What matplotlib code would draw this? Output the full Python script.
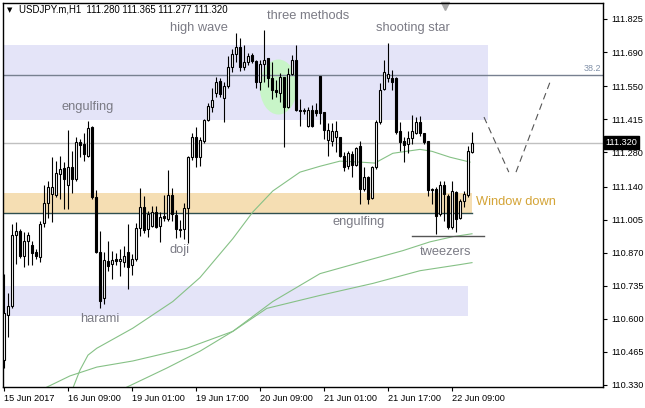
import numpy as np
import matplotlib
matplotlib.use("Agg")
import matplotlib.pyplot as plt
from matplotlib.patches import Ellipse, Rectangle
from matplotlib.transforms import blended_transform_factory

plt.rcParams['font.family'] = ['Liberation Sans', 'DejaVu Sans']

# --- H1 candles, USDJPY.m ---
opens = [
    110.430, 110.613, 110.650, 110.943, 110.959, 110.857, 110.918, 110.902, 110.874, 110.853,
    110.992, 111.073, 111.109, 111.105, 111.191, 111.215, 111.146, 111.219, 111.171, 111.321,
    111.313, 111.264, 111.382, 111.097, 110.874, 110.685, 110.837, 110.825, 110.845, 110.837,
    110.833, 110.874, 110.821, 110.845, 110.971, 111.057, 110.967, 110.979, 111.036, 110.979,
    111.020, 111.008, 111.105, 111.024, 110.963, 110.967, 111.053, 111.260, 111.341, 111.260,
    111.325, 111.414, 111.467, 111.524, 111.573, 111.504, 111.553, 111.630, 111.683, 111.711,
    111.630, 111.650, 111.679, 111.654, 111.569, 111.642, 111.666, 111.585, 111.536, 111.524,
    111.589, 111.467, 111.601, 111.658, 111.455, 111.455, 111.386, 111.455, 111.451, 111.593,
    111.443, 111.329, 111.325, 111.341, 111.341, 111.264, 111.223, 111.272, 111.227, 111.305,
    111.130, 111.179, 111.093, 111.219, 111.402, 111.540, 111.585, 111.585, 111.585, 111.366,
    111.325, 111.313, 111.337, 111.357, 111.402, 111.357, 111.325, 111.126, 111.130, 111.028,
    111.146, 111.101, 110.975, 111.118, 111.012, 111.081, 111.105, 111.280]
highs = [
    110.784, 110.703, 110.988, 110.996, 110.967, 110.955, 110.955, 110.918, 110.886, 111.000,
    111.146, 111.162, 111.260, 111.244, 111.264, 111.240, 111.370, 111.284, 111.341, 111.333,
    111.357, 111.410, 111.386, 111.126, 110.959, 110.874, 110.918, 110.878, 110.870, 110.886,
    110.898, 110.988, 110.866, 110.992, 111.134, 111.101, 111.040, 111.061, 111.061, 111.036,
    111.105, 111.207, 111.134, 111.044, 111.004, 111.073, 111.264, 111.357, 111.382, 111.341,
    111.418, 111.483, 111.544, 111.589, 111.585, 111.569, 111.675, 111.703, 111.768, 111.748,
    111.719, 111.687, 111.687, 111.658, 111.658, 111.780, 111.666, 111.650, 111.577, 111.605,
    111.589, 111.626, 111.679, 111.719, 111.496, 111.463, 111.467, 111.475, 111.483, 111.593,
    111.443, 111.398, 111.398, 111.406, 111.341, 111.280, 111.284, 111.284, 111.301, 111.325,
    111.219, 111.183, 111.223, 111.414, 111.565, 111.658, 111.727, 111.618, 111.589, 111.402,
    111.341, 111.366, 111.431, 111.423, 111.427, 111.357, 111.325, 111.134, 111.138, 111.162,
    111.162, 111.109, 111.162, 111.122, 111.089, 111.122, 111.305, 111.365]
lows = [
    110.398, 110.524, 110.642, 110.825, 110.849, 110.813, 110.821, 110.821, 110.845, 110.833,
    110.975, 111.012, 110.996, 111.097, 111.089, 111.049, 111.049, 111.114, 111.162, 111.260,
    111.244, 111.260, 111.089, 110.870, 110.642, 110.658, 110.796, 110.764, 110.821, 110.773,
    110.813, 110.723, 110.777, 110.837, 110.939, 110.951, 110.935, 110.975, 110.971, 110.914,
    111.000, 111.000, 111.000, 110.931, 110.935, 110.927, 110.910, 111.248, 111.219, 111.223,
    111.317, 111.406, 111.443, 111.508, 111.508, 111.402, 111.544, 111.610, 111.650, 111.614,
    111.618, 111.638, 111.646, 111.544, 111.536, 111.569, 111.549, 111.496, 111.508, 111.487,
    111.301, 111.463, 111.597, 111.447, 111.386, 111.435, 111.382, 111.382, 111.427, 111.394,
    111.333, 111.264, 111.305, 111.280, 111.260, 111.203, 111.211, 111.179, 111.223, 111.069,
    111.122, 111.069, 111.089, 111.211, 111.394, 111.536, 111.569, 111.536, 111.353, 111.284,
    111.240, 111.276, 111.313, 111.353, 111.345, 111.313, 111.101, 111.069, 110.947, 111.020,
    111.000, 110.967, 110.967, 110.955, 111.008, 111.057, 111.097, 111.277]
closes = [
    110.622, 110.650, 110.943, 110.959, 110.857, 110.918, 110.943, 110.870, 110.857, 110.988,
    111.073, 111.138, 111.138, 111.195, 111.211, 111.171, 111.219, 111.171, 111.321, 111.309,
    111.272, 111.378, 111.097, 110.874, 110.674, 110.841, 110.817, 110.841, 110.837, 110.845,
    110.857, 110.813, 110.845, 110.971, 111.057, 110.963, 111.028, 111.036, 110.975, 111.016,
    111.012, 111.105, 111.028, 110.967, 110.967, 111.053, 111.260, 111.341, 111.260, 111.329,
    111.414, 111.471, 111.492, 111.569, 111.520, 111.553, 111.630, 111.683, 111.711, 111.630,
    111.650, 111.675, 111.654, 111.569, 111.642, 111.658, 111.585, 111.536, 111.528, 111.589,
    111.467, 111.601, 111.658, 111.451, 111.447, 111.447, 111.451, 111.386, 111.439, 111.439,
    111.370, 111.370, 111.366, 111.366, 111.264, 111.219, 111.276, 111.227, 111.296, 111.130,
    111.179, 111.089, 111.219, 111.402, 111.536, 111.610, 111.601, 111.569, 111.362, 111.321,
    111.309, 111.337, 111.366, 111.402, 111.357, 111.321, 111.126, 111.130, 111.020, 111.146,
    111.109, 110.975, 111.122, 111.008, 111.081, 111.109, 111.284, 111.320]

# moving averages (bar index, price)
ma_fast_x = [17.2, 19, 21, 23.2, 32.2, 42.2, 49, 57.2, 62.2, 67.2, 74, 79, 84, 89, 92.7, 97.2, 104, 107, 111.5, 116.5]
ma_fast_y = [110.315, 110.390, 110.451, 110.479, 110.561, 110.670, 110.768, 110.927, 111.036, 111.122,
             111.199, 111.223, 111.244, 111.240, 111.236, 111.276, 111.292, 111.284, 111.260, 111.240]
ma_mid_x = [30.7, 40.7, 49, 57.2, 67.2, 79, 89.7, 99.7, 106.5, 112.2, 117]
ma_mid_y = [110.320, 110.398, 110.467, 110.548, 110.670, 110.784, 110.833, 110.878, 110.914, 110.935, 110.947]
ma_slow_x = [10.7, 16.5, 23.2, 32.2, 45.7, 57.2, 65.7, 79, 92.2, 104, 114, 117]
ma_slow_y = [110.320, 110.366, 110.402, 110.427, 110.479, 110.548, 110.642, 110.695, 110.744, 110.796, 110.821, 110.829]

# zones and levels
upper_zone = (111.412, 111.719, 121)
lower_zone = (110.612, 110.735, 116)
window_zone = (111.032, 111.115, 117)
fib_level = 111.595
last_price = 111.320
tweezers_level = (110.937, 102, 120)
projection_x = [[120, 126.2], [128, 136.5]]
projection_y = [[111.424, 111.199], [111.199, 111.567]]

ytick_vals = [111.825, 111.690, 111.550, 111.415, 111.280, 111.140, 111.005,
              110.870, 110.735, 110.600, 110.465, 110.330]
xtick_idx = [0, 16, 32, 48, 64, 80, 96, 112]
xtick_lbl = ['15 Jun 2017', '16 Jun 09:00', '19 Jun 01:00', '19 Jun 17:00',
             '20 Jun 09:00', '21 Jun 01:00', '21 Jun 17:00', '22 Jun 09:00']

patterns = [('high wave', 48.75, 111.788), ('three methods', 76, 111.837),
            ('shooting star', 102.25, 111.788), ('engulfing', 21, 111.465),
            ('doji', 44, 110.881), ('harami', 24, 110.599),
            ('engulfing', 88.75, 110.995), ('tweezers', 110.5, 110.872)]

fig = plt.figure(figsize=(6.45, 4.08), dpi=100)
ax = fig.add_axes([3 / 645, 21 / 408, 600 / 645, 384 / 408])
ax.set_xlim(-0.25, 149.75)
ax.set_ylim(110.3206, 111.8904)

# zones
for lo, hi, end in [upper_zone, lower_zone]:
    ax.add_patch(Rectangle((-0.25, lo), end + 0.25, hi - lo, facecolor='#e4e4f8', edgecolor='none', zorder=0))
lo, hi, end = window_zone
ax.add_patch(Rectangle((-0.25, lo), end + 0.25, hi - lo, facecolor='#f5deb3', edgecolor='none', zorder=0))
ax.plot([-0.25, end], [lo, lo], color='#2f4f4f', lw=1, zorder=1)

ax.add_patch(Ellipse((68.6, 111.547), 9.3, 0.225, facecolor='#c8f5c8', edgecolor='none', zorder=1))

ax.axhline(fib_level, color='#778090', lw=1, zorder=1)
ax.axhline(last_price, color='#c0c0c0', lw=1, zorder=1)
ax.text(149.3, fib_level + 0.008, '38.2', ha='right', va='bottom', fontsize=6.5, color='#8090a8')

# moving averages
for xs, ys in [(ma_fast_x, ma_fast_y), (ma_mid_x, ma_mid_y), (ma_slow_x, ma_slow_y)]:
    ax.plot(xs, ys, color='#86c186', lw=0.8, zorder=2)

# candles
idx = np.arange(len(opens))
o = np.array(opens)
c = np.array(closes)
ax.vlines(idx, lows, highs, color='black', lw=0.8, zorder=3)
body_lo = np.minimum(o, c)
body_h = np.maximum(np.abs(c - o), 0.002)
colors = ['white' if cc >= oo else 'black' for oo, cc in zip(o, c)]
ax.bar(idx, body_h, bottom=body_lo, width=0.55, color=colors, edgecolor='black', lw=0.8, zorder=4)

# tweezers line and projection
lvl, x0, x1 = tweezers_level
ax.plot([x0, x1], [lvl, lvl], color='#555555', lw=1, zorder=5)
for xs, ys in zip(projection_x, projection_y):
    ax.plot(xs, ys, color='#555555', lw=0.8, dashes=(6, 4), zorder=5)

# labels
for txt, xx, yy in patterns:
    ax.text(xx, yy, txt, ha='center', va='center', fontsize=9.3, color='#7b7b85', zorder=6)
ax.text(118, 111.077, 'Window down', ha='left', va='center', fontsize=9.3, color='#d4a437', zorder=6)

# header
ax.text(0.007, 0.982, '\u25bc', transform=ax.transAxes, fontsize=5, va='center', ha='left',
        family='DejaVu Sans')
ax.text(0.027, 0.982, 'USDJPY.m,H1  111.280 111.365 111.277 111.320', transform=ax.transAxes,
        fontsize=6.9, va='center', ha='left', color='black')
ax.plot(0.737, 0.992, marker='v', color='#a8a8a8', markersize=6, transform=ax.transAxes, clip_on=False)

# axes
ax.yaxis.tick_right()
ax.set_yticks(ytick_vals)
ax.set_yticklabels([f'{v:.3f}' for v in ytick_vals])
ax.tick_params(axis='y', labelsize=6.6, length=3, pad=3)
ax.set_xticks(xtick_idx)
ax.set_xticklabels(xtick_lbl)
ax.tick_params(axis='x', labelsize=6.6, length=3, pad=2)
plt.setp(ax.get_xticklabels(), ha='left')
for sp in ax.spines.values():
    sp.set_linewidth(1)

tr = blended_transform_factory(ax.transAxes, ax.transData)
ax.text(1.004, last_price, '111.320', transform=tr, ha='left', va='center', fontsize=6.6,
        color='white', bbox=dict(facecolor='black', edgecolor='black', pad=1.2), clip_on=False, zorder=10)

fig.savefig('out.png', dpi=100)
